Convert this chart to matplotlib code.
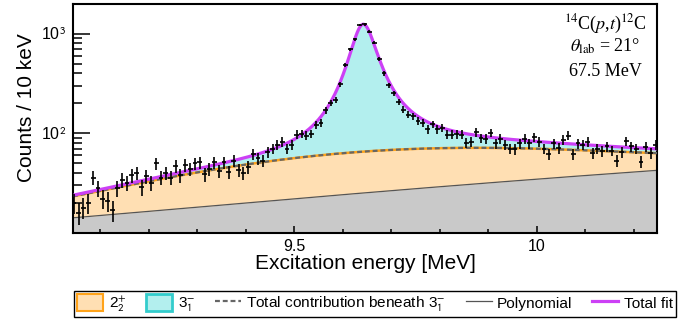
import numpy as np
import matplotlib
matplotlib.use("Agg")
from matplotlib import pyplot as plt
from matplotlib.lines import Line2D
from matplotlib.patches import Patch
from matplotlib.ticker import FixedLocator, LogLocator, MultipleLocator, FuncFormatter, NullFormatter

plt.rcParams['font.family'] = ['Liberation Sans', 'DejaVu Sans']
plt.rcParams['mathtext.fontset'] = 'stix'

# Measured spectrum, 10 keV bins, first bin centre at 9.045 MeV.
first_bin = 9.045
bin_width = 0.01
counts = [20, 16, 18, 20, 36, 28, 22, 21, 17, 28,
          34, 32, 38, 40, 29, 37, 32, 50, 36, 40,
          36, 47, 38, 48, 44, 50, 51, 39, 44, 51,
          42, 51, 41, 53, 43, 40, 46, 62, 56, 53,
          65, 70, 77, 82, 70, 76, 97, 99, 95, 99,
          122, 128, 170, 203, 215, 311, 482, 694, 874, 1217,
          1237, 1043, 808, 554, 398, 304, 251, 206, 173, 154,
          149, 134, 128, 110, 123, 110, 113, 97, 97, 98,
          97, 80, 82, 103, 90, 88, 101, 79, 88, 76,
          70, 69, 79, 88, 79, 92, 82, 70, 62, 79,
          71, 86, 95, 62, 79, 77, 82, 63, 70, 66,
          74, 67, 53, 65, 83, 74, 70, 52, 73, 63,
          77]

# Fit components.
poly_coef = [13.64, 12.56, 8.46]     # background polynomial in (E - 9 MeV)
amp_2plus = 42.0                     # broad 2+_2 contribution
centre_2plus = 9.76
sigma_2plus = 0.41
amp_3minus = 1175.0                  # 3-_1 resonance
centre_3minus = 9.643
halfwidth_3minus = 0.027
alpha_threshold = 7.367              # width grows with energy above threshold
width_power = 4.5


def polynomial(e):
    u = e - 9.0
    return poly_coef[0] + poly_coef[1] * u + poly_coef[2] * u**2


def state_2plus(e):
    return amp_2plus * np.exp(-0.5 * ((e - centre_2plus) / sigma_2plus)**2)


def state_3minus(e):
    g = ((e - alpha_threshold) / (centre_3minus - alpha_threshold))**width_power
    d = e - centre_3minus
    return amp_3minus * g * halfwidth_3minus**2 / (d**2 + (g * halfwidth_3minus)**2)


energy = first_bin + bin_width * np.arange(len(counts))
counts = np.array(counts, dtype=float)

xmin, xmax = 9.0435, 10.248
ymin, ymax = 10, 1980
e = np.linspace(xmin, xmax, 1500)
bg = polynomial(e)
beneath = bg + state_2plus(e)
total = beneath + state_3minus(e)

peach = '#ffdfb3'
orange = '#ffa31a'
cyan = '#b3efee'
dark_cyan = '#33cccc'
grey_fill = '#c9c9c9'
magenta = '#cc40f5'

fig = plt.figure(figsize=(6.8, 3.21), dpi=100)
ax = fig.add_axes([73 / 680, 1 - 233 / 321, 584 / 680, 229 / 321])

ax.fill_between(e, 1, bg, color=grey_fill, lw=0, zorder=1)
ax.fill_between(e, bg, beneath, color=peach, lw=0, zorder=1)
ax.fill_between(e, beneath, total, color=cyan, lw=0, zorder=1)
ax.plot(e, bg, color='#555555', lw=0.9, zorder=2)
ax.plot(e, beneath, color=orange, lw=1.8, zorder=2)
ax.plot(e, beneath, color='#666666', lw=1.6, ls=(0, (2.2, 1.3)), zorder=3)
ax.plot(e, total, color=magenta, lw=2.3, zorder=4)

ax.errorbar(energy, counts, yerr=np.sqrt(counts), xerr=bin_width / 2,
            fmt='none', ecolor='black', elinewidth=1.2, capsize=0, zorder=5)

ax.set_yscale('log')
ax.set_xlim(xmin, xmax)
ax.set_ylim(ymin, ymax)

ax.xaxis.set_major_locator(MultipleLocator(0.5))
ax.xaxis.set_minor_locator(MultipleLocator(0.1))
ax.xaxis.set_major_formatter(FuncFormatter(lambda v, p: f'{v:g}'))
ax.yaxis.set_major_locator(FixedLocator([100, 1000]))
ax.yaxis.set_minor_locator(LogLocator(base=10, subs=np.arange(2, 10)))
ax.yaxis.set_minor_formatter(NullFormatter())
ax.yaxis.set_major_formatter(FuncFormatter(
    lambda v, p: r'10$^{\mathsf{%d}}$' % round(np.log10(v))))

ax.tick_params(axis='both', which='both', direction='in', width=1.1,
               top=False, right=False, labelsize=11.5)
ax.tick_params(axis='y', which='major', length=12, pad=5)
ax.tick_params(axis='y', which='minor', length=6.5)
ax.tick_params(axis='x', which='major', length=5, pad=4)
ax.tick_params(axis='x', which='minor', length=3)
for sp in ax.spines.values():
    sp.set_linewidth(1.5)

ax.set_xlabel('Excitation energy [MeV]', fontsize=15)
ax.set_ylabel('Counts / 10 keV', fontsize=15)
ax.xaxis.set_label_coords(0.5, -0.09)
ax.yaxis.set_label_coords(-0.063, 0.546)

serif = dict(family=['Liberation Serif', 'DejaVu Serif'], fontsize=13,
             ha='center', va='baseline', transform=ax.transAxes)
ax.text(0.911, 0.8895, r'$^{14}$C($p$,$t$)$^{12}$C', **serif)
ax.text(0.911, 0.7921, r'$\theta_{\mathrm{lab}}$ = 21°', **serif)
ax.text(0.911, 0.6856, '67.5 MeV', **serif)

handles = [Patch(facecolor=peach, edgecolor=orange, lw=1.5),
           Patch(facecolor=cyan, edgecolor=dark_cyan, lw=2.0),
           Line2D([], [], color='#666666', lw=1.6, ls=(0, (2.2, 1.3))),
           Line2D([], [], color='#555555', lw=0.9),
           Line2D([], [], color=magenta, lw=2.3)]
labels = [r'2$_{\mathsf{2}}^{\mathsf{+}}$',
          r'3$_{\mathsf{1}}^{\mathsf{-}}$',
          r'Total contribution beneath 3$_{\mathsf{1}}^{\mathsf{-}}$',
          'Polynomial', 'Total fit']
leg = fig.legend(handles, labels, loc='lower left',
                 bbox_to_anchor=(74 / 680, 4 / 321, 602 / 680, 28 / 321),
                 mode='expand', ncol=5, fancybox=False, edgecolor='black',
                 framealpha=1, fontsize=11.1, handlelength=1.68, handleheight=1.25,
                 handletextpad=0.36, borderpad=0.2, borderaxespad=0,
                 columnspacing=1.2)
leg.get_frame().set_linewidth(1.0)

fig.savefig('out.png', dpi=100)
